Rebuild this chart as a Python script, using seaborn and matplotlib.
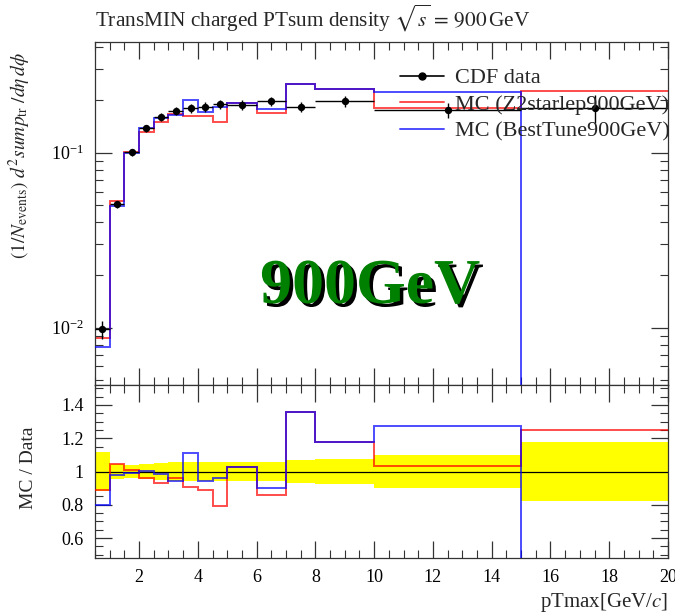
import numpy as np
import pandas as pd
import matplotlib
matplotlib.use("Agg")
import matplotlib.pyplot as plt
import matplotlib.ticker as mticker
import matplotlib.patheffects as pe
from matplotlib.lines import Line2D
import seaborn as sns

# ---------------- data ----------------
bin_edges = [0.5, 1.0, 1.5, 2.0, 2.5, 3.0, 3.5, 4.0, 4.5, 5.0, 6.0, 7.0, 8.0, 10.0, 15.0, 20.0]
cdf_data = [0.0098, 0.0509, 0.1004, 0.1377, 0.1607, 0.1738, 0.180, 0.183, 0.190,
            0.188, 0.197, 0.183, 0.197, 0.175, 0.181]
cdf_rel_err = [0.12, 0.045, 0.04, 0.045, 0.05, 0.055, 0.06, 0.06, 0.06,
               0.06, 0.06, 0.067, 0.077, 0.10, 0.18]
mc_z2 = [0.0087, 0.0533, 0.1014, 0.1322, 0.1495, 0.1665, 0.1627, 0.1625, 0.1509,
         0.1933, 0.1690, 0.2489, 0.2325, 0.1803, 0.2263]
mc_best = [0.0078, 0.0498, 0.0992, 0.1383, 0.1581, 0.1634, 0.1998, 0.1720, 0.1824,
           0.1933, 0.1769, 0.2489, 0.2325, 0.2230, 0.0]

title_text = r"TransMIN charged PTsum density $\sqrt{s}\,=\,900\,$GeV"
legend_labels = ["CDF data", "MC (Z2starlep900GeV)", "MC (BestTune900GeV)"]
big_label = "900GeV"

# ---------------- style ----------------
sns.set_theme(style="ticks")
plt.rcParams["font.family"] = ["Liberation Serif", "DejaVu Serif"]
plt.rcParams["mathtext.fontset"] = "stix"
plt.rcParams["axes.edgecolor"] = "#333333"
plt.rcParams["axes.linewidth"] = 0.9

edges = np.array(bin_edges)
centers = 0.5 * (edges[:-1] + edges[1:])
halfw = 0.5 * (edges[1:] - edges[:-1])
data = np.array(cdf_data)
rel = np.array(cdf_rel_err)
z2 = np.array(mc_z2)
best = np.array(mc_best)

df = pd.DataFrame({"x": centers, "y": data})

W, H = 675, 615
fig = plt.figure(figsize=(W / 100, H / 100), dpi=100)
L, R = 95 / W, 668 / W
ax1 = fig.add_axes([L, 1 - 385 / H, R - L, (385 - 42) / H])
ax2 = fig.add_axes([L, 1 - 558 / H, R - L, (558 - 385) / H], sharex=ax1)

red = (1.0, 0.0, 0.0, 0.7)
blue = (0.0, 0.0, 1.0, 0.7)

# ---------------- top panel ----------------
ax1.set_yscale("log")
ax1.stairs(z2, edges, color=red, lw=1.4, baseline=None, zorder=2)
ax1.stairs(best, edges, color=blue, lw=1.4, baseline=None, zorder=3)
ax1.errorbar(centers, data, xerr=halfw, yerr=data * rel, fmt="none",
             ecolor="black", elinewidth=1.0, capsize=0, zorder=4)
sns.scatterplot(data=df, x="x", y="y", ax=ax1, color="black", s=28,
                edgecolor="black", linewidth=0, zorder=5, legend=False)
ax1.set_xlim(0.5, 20)
ax1.set_ylim(0.0047, 0.43)
ax1.set_xlabel("")
ax1.set_ylabel(r"$(1/N_{\mathrm{events}})\ d^2 sum p_{\mathrm{tr}}\ /d\eta\,d\phi$", fontsize=14)
ax1.yaxis.set_label_coords(-0.108, 0.67)
ax1.tick_params(axis="x", labelbottom=False)
ax1.set_title(title_text, loc="left", fontsize=15.3, pad=11)

handles = [Line2D([], [], color="black", marker="o", ms=5, lw=1.2),
           Line2D([], [], color=red, lw=1.4),
           Line2D([], [], color=blue, lw=1.4)]
ax1.legend(handles, legend_labels, loc="upper left", bbox_to_anchor=(0.532, 0.925),
           frameon=False, fontsize=16, handlelength=2.0, handletextpad=0.5,
           labelspacing=0.28, borderpad=0, borderaxespad=0)

ax1.text(0.48, 0.283, big_label, transform=ax1.transAxes, ha="center", va="center",
         fontsize=46, fontweight="bold", color="#008000",
         path_effects=[pe.withSimplePatchShadow(offset=(2.5, -2.5), shadow_rgbFace="black", alpha=1.0)],
         zorder=6)

# ---------------- ratio panel ----------------
ratio_z2 = z2 / data
ratio_best = best / data
ax2.stairs(1 + rel, edges, baseline=1 - rel, fill=True, color="#ffff00", lw=0, zorder=1)
ax2.axhline(1.0, color="black", lw=0.9, zorder=2)
ax2.stairs(ratio_z2, edges, color=red, lw=1.4, baseline=None, zorder=3)
ax2.stairs(ratio_best, edges, color=blue, lw=1.4, baseline=None, zorder=4)
ax2.set_ylim(0.48, 1.52)
ax2.set_ylabel("MC / Data", fontsize=14)
ax2.yaxis.set_label_coords(-0.101, 0.52)
ax2.set_xlabel(r"pTmax[GeV/$c$]", fontsize=15, loc="right")
ax2.xaxis.set_label_coords(1.0, -0.19)

ax2.xaxis.set_major_locator(mticker.MultipleLocator(2))
ax2.xaxis.set_minor_locator(mticker.MultipleLocator(0.5))
ax2.xaxis.set_major_formatter(mticker.FuncFormatter(lambda v, p: f"{v:g}"))
ax2.yaxis.set_major_locator(mticker.MultipleLocator(0.2))
ax2.yaxis.set_minor_locator(mticker.MultipleLocator(0.05))
ax2.yaxis.set_major_formatter(mticker.FuncFormatter(lambda v, p: f"{v:g}"))

ax1.yaxis.set_major_locator(mticker.LogLocator(base=10, numticks=10))
ax1.yaxis.set_minor_locator(mticker.LogLocator(base=10, subs=np.arange(2, 10), numticks=20))
ax1.yaxis.set_minor_formatter(mticker.NullFormatter())

for ax in (ax1, ax2):
    ax.tick_params(which="both", direction="in", top=True, right=True,
                   colors="#333333", labelcolor="black", labelsize=13, pad=8)
    ax.tick_params(which="major", length=12, width=0.9)
    ax.tick_params(which="minor", length=6, width=0.8)
    for s in ax.spines.values():
        s.set_visible(True)

fig.savefig("out.png", dpi=100)
